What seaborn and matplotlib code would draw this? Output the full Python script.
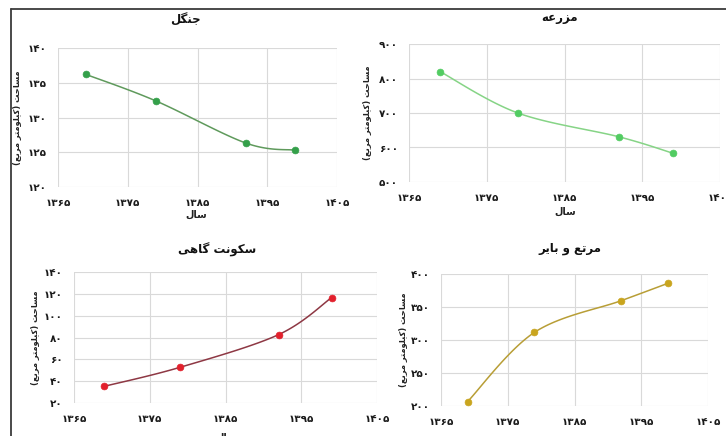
import numpy as np
import pandas as pd
import matplotlib
matplotlib.use("Agg")
import matplotlib.pyplot as plt
from matplotlib.ticker import FuncFormatter, MultipleLocator
from matplotlib.lines import Line2D
import seaborn as sns

# ---------------- data ----------------
years = [1369, 1379, 1392, 1399]
forest = [136.2, 132.4, 126.3, 125.3]
farm = [820, 700, 631, 583]
urban = [35.3, 52.7, 82.6, 116.5]
range_land = [206.8, 311.6, 359.6, 385.9]

titles = ["جنگل", "مزرعه", "سکونت گاهی", "مرتع و بایر"]
ylabel_text = "مساحت (کیلومتر مربع)"
xlabel_text = "سال"
x_ticks = [1365, 1375, 1385, 1395, 1405]

# ---------------- Persian shaping helpers ----------------
FORMS = {
    '\u0627': ('\uFE8D', '\uFE8E', None, None),
    '\u0628': ('\uFE8F', '\uFE90', '\uFE91', '\uFE92'),
    '\u062A': ('\uFE95', '\uFE96', '\uFE97', '\uFE98'),
    '\u062C': ('\uFE9D', '\uFE9E', '\uFE9F', '\uFEA0'),
    '\u062D': ('\uFEA1', '\uFEA2', '\uFEA3', '\uFEA4'),
    '\u0631': ('\uFEAD', '\uFEAE', None, None),
    '\u0632': ('\uFEAF', '\uFEB0', None, None),
    '\u0633': ('\uFEB1', '\uFEB2', '\uFEB3', '\uFEB4'),
    '\u0639': ('\uFEC9', '\uFECA', '\uFECB', '\uFECC'),
    '\u0644': ('\uFEDD', '\uFEDE', '\uFEDF', '\uFEE0'),
    '\u0645': ('\uFEE1', '\uFEE2', '\uFEE3', '\uFEE4'),
    '\u0646': ('\uFEE5', '\uFEE6', '\uFEE7', '\uFEE8'),
    '\u0647': ('\uFEE9', '\uFEEA', '\uFEEB', '\uFEEC'),
    '\u0648': ('\uFEED', '\uFEEE', None, None),
    '\u06A9': ('\uFB8E', '\uFB8F', '\uFB90', '\uFB91'),
    '\u06AF': ('\uFB92', '\uFB93', '\uFB94', '\uFB95'),
    '\u06CC': ('\uFBFC', '\uFBFD', '\uFBFE', '\uFBFF'),
}


def fa(text):
    chars = list(text)
    out = []
    for i, c in enumerate(chars):
        if c not in FORMS:
            out.append(c)
            continue
        prev = chars[i - 1] if i > 0 else None
        nxt = chars[i + 1] if i + 1 < len(chars) else None
        jp = prev in FORMS and FORMS[prev][2] is not None
        jn = FORMS[c][2] is not None and nxt in FORMS
        iso, fin, ini, med = FORMS[c]
        if jp and jn:
            out.append(med)
        elif jp:
            out.append(fin)
        elif jn:
            out.append(ini)
        else:
            out.append(iso)
    vis = ''.join(out)[::-1]
    return vis.translate(str.maketrans({'(': ')', ')': '('}))


DIG = str.maketrans('0123456789', '۰۱۲۳۴۵۶۷۸۹')
fa_num = FuncFormatter(lambda v, p: str(int(round(v))).translate(DIG))


def smooth(xs, ys, xr, yr, w, h, n=30):
    # cardinal (Excel-like) bezier smoothing in pixel space
    P = np.column_stack([(np.array(xs) - xr[0]) / (xr[1] - xr[0]) * w,
                         (np.array(ys) - yr[0]) / (yr[1] - yr[0]) * h])
    pts = [P[0]]
    for i in range(len(P) - 1):
        p0 = P[max(i - 1, 0)]
        p1 = P[i]
        p2 = P[i + 1]
        p3 = P[min(i + 2, len(P) - 1)]
        c1 = p1 + (p2 - p0) / 6.0
        c2 = p2 - (p3 - p1) / 6.0
        t = np.linspace(0, 1, n)[1:, None]
        b = ((1 - t) ** 3) * p1 + 3 * ((1 - t) ** 2) * t * c1 + 3 * (1 - t) * t ** 2 * c2 + t ** 3 * p2
        pts.extend(list(b))
    pts = np.array(pts)
    return (pts[:, 0] / w * (xr[1] - xr[0]) + xr[0],
            pts[:, 1] / h * (yr[1] - yr[0]) + yr[0])


# ---------------- style ----------------
sns.set_theme(style="white")
plt.rcParams['font.family'] = ['DejaVu Sans']
plt.rcParams['font.weight'] = 'bold'

fig = plt.figure(figsize=(7.26, 4.36), dpi=100)
W, H = 726.0, 436.0


def px_axes(x0, y0, x1, y1):
    return fig.add_axes([x0 / W, 1 - y1 / H, (x1 - x0) / W, (y1 - y0) / H])


panels = [
    dict(box=(58, 48, 337, 187), vals=forest, ylim=(120, 140), step=5,
         line='#5f9a5c', mark='#34a04a', title=(185, 20), ylab=(18, 118), xlab=(196, 215)),
    dict(box=(409, 44, 720, 182), vals=farm, ylim=(500, 900), step=100,
         line='#86d486', mark='#52cc62', title=(560, 17), ylab=(368, 113), xlab=(565, 212)),
    dict(box=(74, 272, 377, 403), vals=urban, ylim=(20, 140), step=20,
         line='#8e3844', mark='#e2202c', title=(217, 250), ylab=(36, 338), xlab=(226, 438)),
    dict(box=(441, 274, 708, 406), vals=range_land, ylim=(200, 400), step=50,
         line='#b89e36', mark='#c9a51e', title=(570, 248), ylab=(403, 340), xlab=(574, 441)),
]

for i, pnl in enumerate(panels):
    x0, y0, x1, y1 = pnl['box']
    ax = px_axes(x0, y0, x1, y1)
    xr = (1365, 1405)
    sx, sy = smooth(years, pnl['vals'], xr, pnl['ylim'], x1 - x0, y1 - y0)
    curve = pd.DataFrame({'x': sx, 'y': sy})
    pts = pd.DataFrame({'x': years, 'y': pnl['vals']})
    sns.lineplot(data=curve, x='x', y='y', ax=ax, color=pnl['line'], lw=1.1,
                 sort=False, estimator=None)
    sns.scatterplot(data=pts, x='x', y='y', ax=ax, color=pnl['mark'], s=24,
                    edgecolor=pnl['mark'], linewidth=0.5, zorder=5)
    ax.set_xlim(*xr)
    ax.set_ylim(*pnl['ylim'])
    ax.set_xticks(x_ticks)
    ax.yaxis.set_major_locator(MultipleLocator(pnl['step']))
    ax.xaxis.set_major_formatter(fa_num)
    ax.yaxis.set_major_formatter(fa_num)
    ax.grid(True, color='#d9d9d9', lw=0.8)
    for s in ax.spines.values():
        s.set_visible(False)
    ax.tick_params(axis='both', length=0, labelsize=7.5, colors='#1a1a1a')
    ax.tick_params(axis='x', pad=8)
    ax.tick_params(axis='y', pad=8)
    for lab in ax.get_xticklabels() + ax.get_yticklabels():
        lab.set_fontweight('bold')
    ax.set_xlabel('')
    ax.set_ylabel('')
    tx, ty = pnl['title']
    fig.text(tx / W, 1 - ty / H, fa(titles[i]), ha='center', va='center',
             fontsize=8.5, fontweight='bold', color='#111111')
    lx, ly = pnl['ylab']
    fig.text(lx / W, 1 - ly / H, fa(ylabel_text), ha='center', va='center',
             rotation=90, fontsize=6, fontweight='bold', color='#222222')
    xx, xy = pnl['xlab']
    fig.text(xx / W, 1 - xy / H, fa(xlabel_text), ha='center', va='center',
             fontsize=7, fontweight='bold', color='#222222')

# outer frame lines (top and left)
fig.add_artist(Line2D([10.5 / W, 1.0], [1 - 9.5 / H, 1 - 9.5 / H], color='#3c3c3c', lw=1.3))
fig.add_artist(Line2D([10.5 / W, 10.5 / W], [0.0, 1 - 9.5 / H], color='#3c3c3c', lw=1.3))

fig.savefig('out.png', dpi=100)
